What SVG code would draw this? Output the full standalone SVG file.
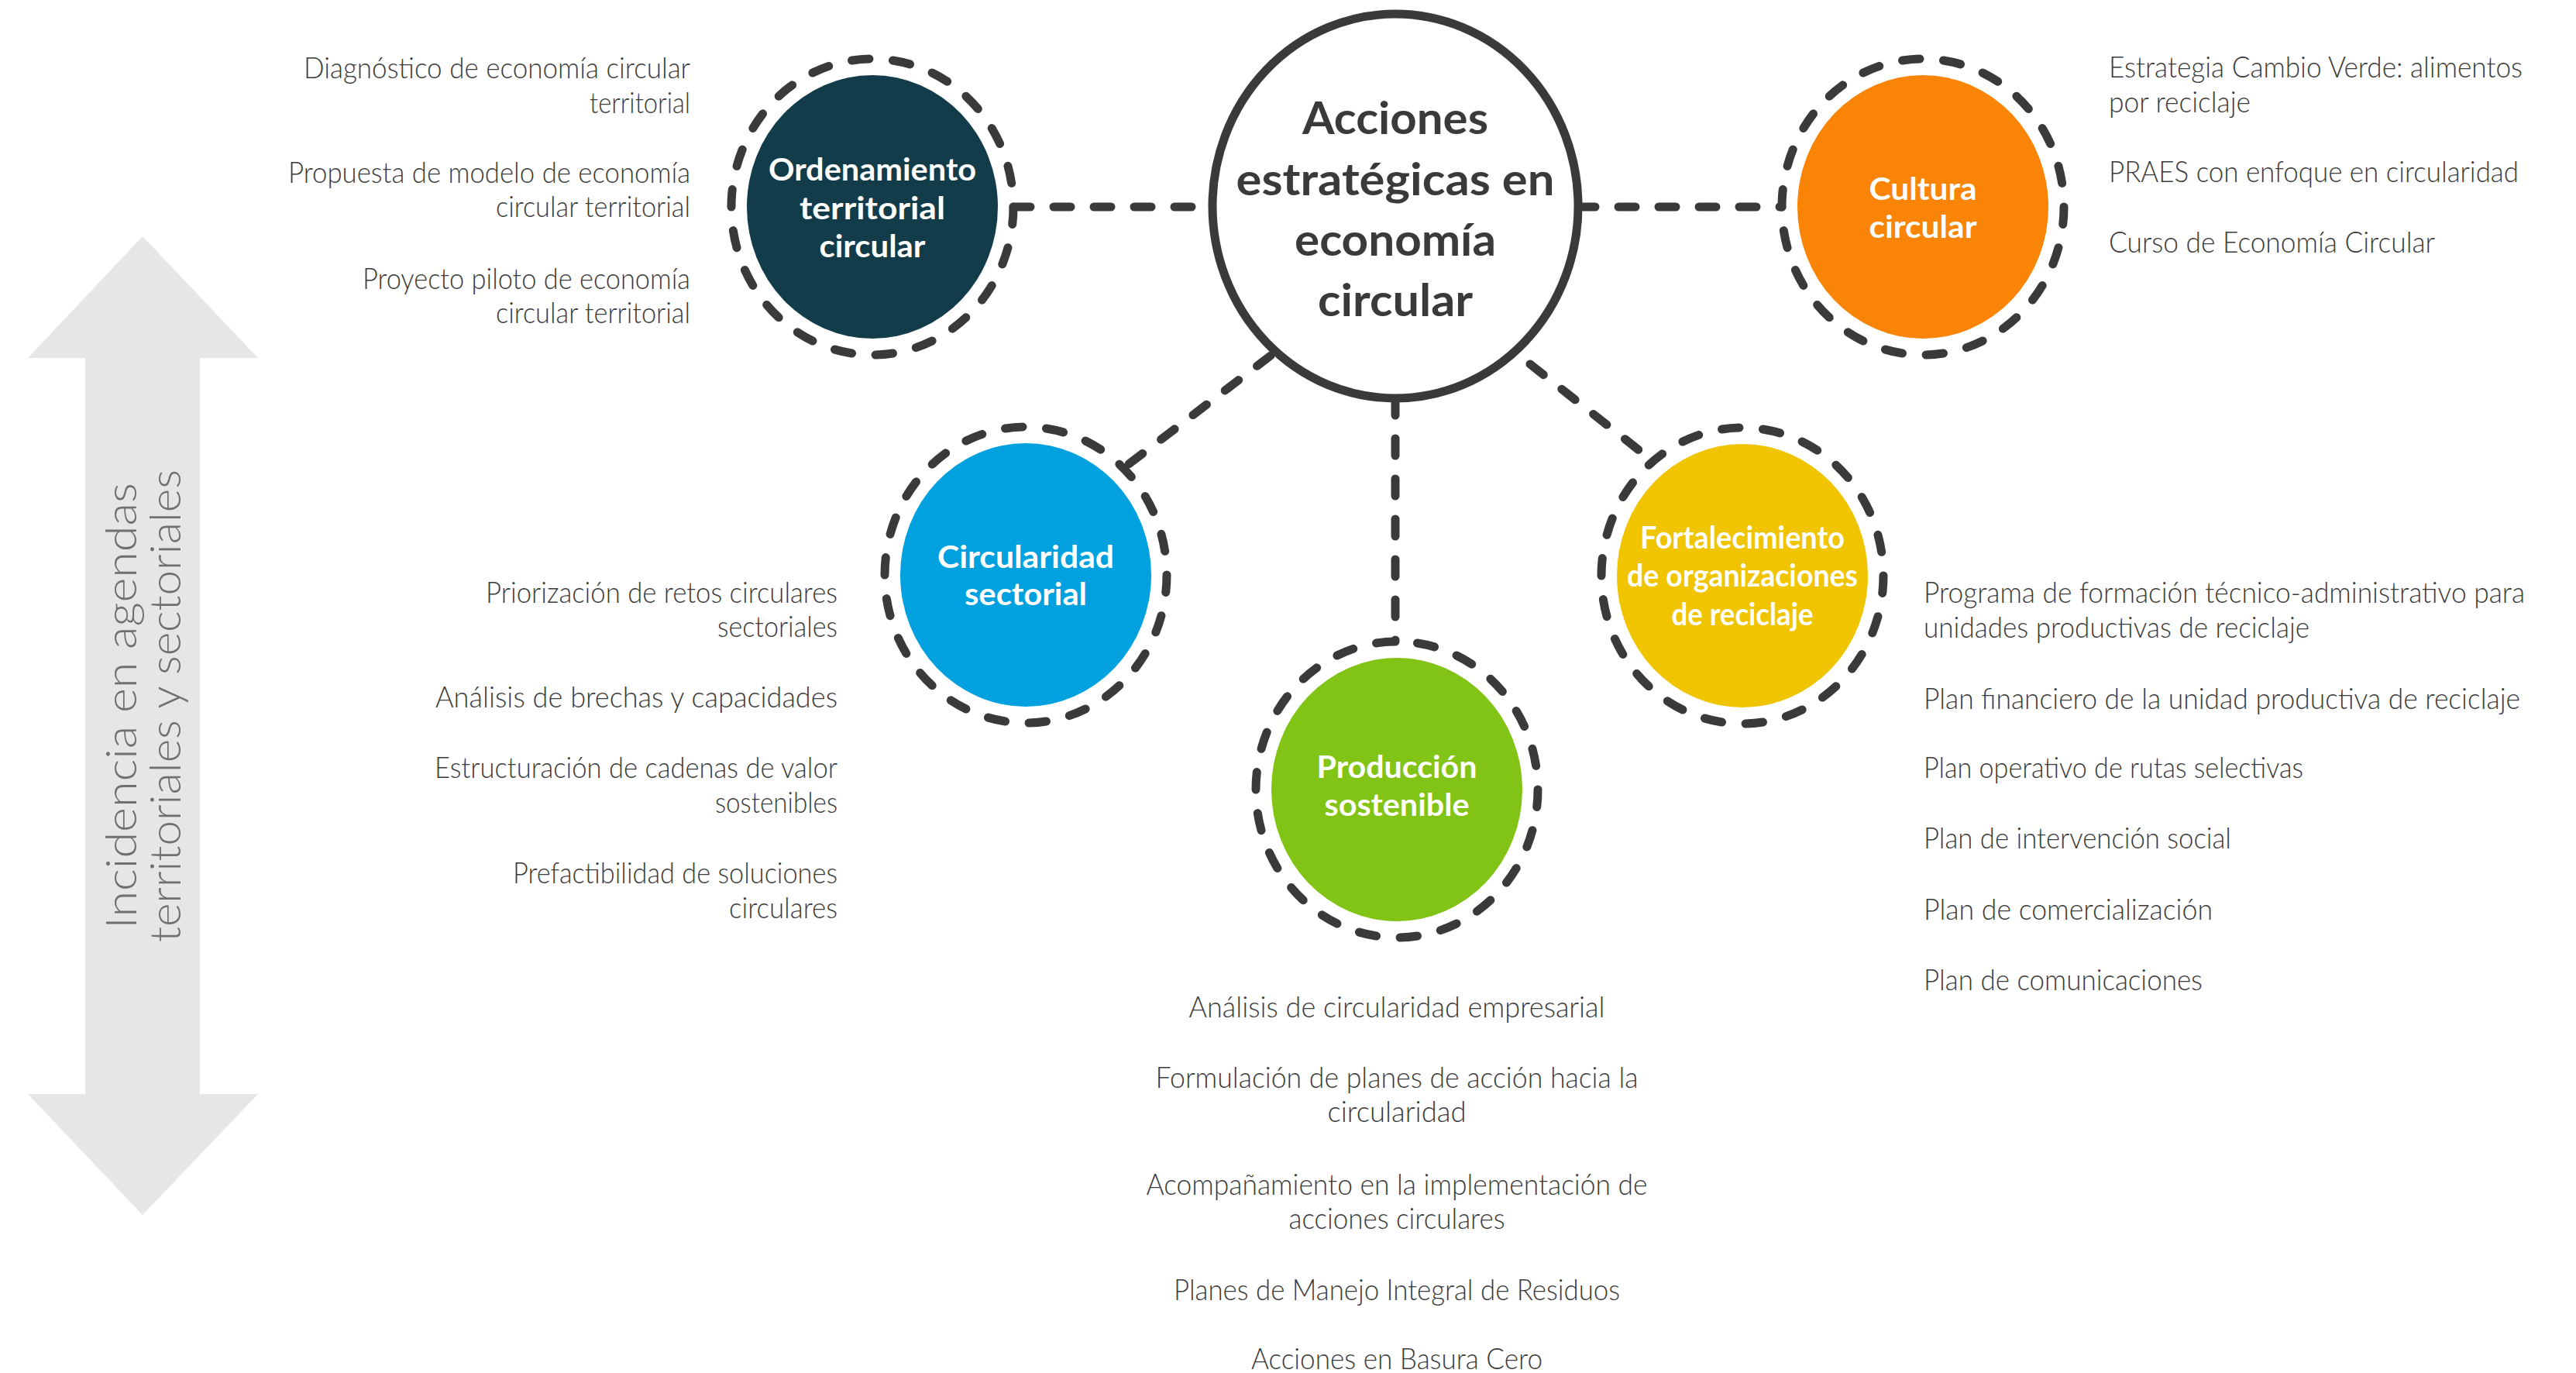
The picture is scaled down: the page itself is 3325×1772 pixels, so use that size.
<svg xmlns="http://www.w3.org/2000/svg" width="3325" height="1772" viewBox="0 0 3325 1772">
<style>
.ring{fill:none;stroke:#3a3a3a;stroke-width:11;stroke-dasharray:22 30;stroke-linecap:round}
.conn{fill:none;stroke:#3a3a3a;stroke-width:11;stroke-dasharray:22 30;stroke-linecap:round}
.body{font-family:Lato,"Liberation Sans",sans-serif;font-weight:300;font-size:38px;fill:#3b3b3b}
.lbl{font-family:Lato,"Liberation Sans",sans-serif;font-weight:700;font-size:40px;fill:#ffffff;text-anchor:middle}
.main{font-family:Lato,"Liberation Sans",sans-serif;font-weight:700;font-size:58px;fill:#3a3a3a;text-anchor:middle}
.side{font-family:Lato,"Liberation Sans",sans-serif;font-weight:300;font-size:55px;fill:#707070;text-anchor:middle}
</style>
<rect width="3325" height="1772" fill="#ffffff"/>

<g id="arrow">
<polygon points="184,305 333,462 258,462 258,1412 333,1412 184,1568 36,1412 110,1412 110,462 36,462" fill="#e6e6e6"/>
<text class="side" transform="translate(176,911) rotate(-90)" textLength="576" lengthAdjust="spacingAndGlyphs">Incidencia en agendas</text>
<text class="side" transform="translate(233,911) rotate(-90)" textLength="610" lengthAdjust="spacingAndGlyphs">territoriales y sectoriales</text>
</g>

<g id="connectors">
<line class="conn" x1="1308" y1="267" x2="1565" y2="267"/>
<line class="conn" x1="2037" y1="267" x2="2300" y2="267"/>
<line class="conn" x1="1640" y1="459" x2="1453" y2="602"/>
<line class="conn" x1="1801" y1="514" x2="1801" y2="828"/>
<line class="conn" x1="1975" y1="470" x2="2132" y2="594"/>
</g>

<g id="central">
<ellipse cx="1801" cy="266" rx="236" ry="248" fill="#ffffff" stroke="#3a3a3a" stroke-width="11"/>
<text class="main" x="1801" y="173" textLength="240" lengthAdjust="spacingAndGlyphs">Acciones</text>
<text class="main" x="1801" y="252" textLength="411" lengthAdjust="spacingAndGlyphs">estratégicas en</text>
<text class="main" x="1801" y="330" textLength="260" lengthAdjust="spacingAndGlyphs">economía</text>
<text class="main" x="1801" y="408" textLength="200" lengthAdjust="spacingAndGlyphs">circular</text>
</g>

<g id="ordenamiento">
<ellipse class="ring" cx="1126" cy="267" rx="182" ry="191" pathLength="1144"/>
<ellipse cx="1126" cy="267" rx="162" ry="170" fill="#133c4a"/>
<text class="lbl" x="1126" y="233" textLength="268" lengthAdjust="spacingAndGlyphs">Ordenamiento</text>
<text class="lbl" x="1126" y="283" textLength="188" lengthAdjust="spacingAndGlyphs">territorial</text>
<text class="lbl" x="1126" y="332" textLength="137" lengthAdjust="spacingAndGlyphs">circular</text>
<g class="body" text-anchor="end">
<text x="891" y="101" textLength="499" lengthAdjust="spacingAndGlyphs">Diagnóstico de economía circular</text>
<text x="891" y="146" textLength="130" lengthAdjust="spacingAndGlyphs">territorial</text>
<text x="891" y="236" textLength="519" lengthAdjust="spacingAndGlyphs">Propuesta de modelo de economía</text>
<text x="891" y="280" textLength="251" lengthAdjust="spacingAndGlyphs">circular territorial</text>
<text x="891" y="373" textLength="423" lengthAdjust="spacingAndGlyphs">Proyecto piloto de economía</text>
<text x="891" y="417" textLength="251" lengthAdjust="spacingAndGlyphs">circular territorial</text>
</g>
</g>

<g id="cultura">
<ellipse class="ring" cx="2482" cy="267" rx="182" ry="191" pathLength="1144"/>
<ellipse cx="2482" cy="267" rx="162" ry="170" fill="#f98406"/>
<text class="lbl" x="2482" y="258" textLength="139" lengthAdjust="spacingAndGlyphs">Cultura</text>
<text class="lbl" x="2482" y="307" textLength="139" lengthAdjust="spacingAndGlyphs">circular</text>
<g class="body">
<text x="2722" y="100" textLength="534" lengthAdjust="spacingAndGlyphs">Estrategia Cambio Verde: alimentos</text>
<text x="2722" y="145" textLength="183" lengthAdjust="spacingAndGlyphs">por reciclaje</text>
<text x="2722" y="235" textLength="529" lengthAdjust="spacingAndGlyphs">PRAES con enfoque en circularidad</text>
<text x="2722" y="326" textLength="421" lengthAdjust="spacingAndGlyphs">Curso de Economía Circular</text>
</g>
</g>

<g id="circularidad">
<ellipse class="ring" cx="1324" cy="742" rx="182" ry="191" pathLength="1144"/>
<ellipse cx="1324" cy="742" rx="162" ry="170" fill="#01a1df"/>
<text class="lbl" x="1324" y="733" textLength="228" lengthAdjust="spacingAndGlyphs">Circularidad</text>
<text class="lbl" x="1324" y="781" textLength="158" lengthAdjust="spacingAndGlyphs">sectorial</text>
<g class="body" text-anchor="end">
<text x="1081" y="778" textLength="454" lengthAdjust="spacingAndGlyphs">Priorización de retos circulares</text>
<text x="1081" y="822" textLength="155" lengthAdjust="spacingAndGlyphs">sectoriales</text>
<text x="1081" y="913" textLength="519" lengthAdjust="spacingAndGlyphs">Análisis de brechas y capacidades</text>
<text x="1081" y="1004" textLength="520" lengthAdjust="spacingAndGlyphs">Estructuración de cadenas de valor</text>
<text x="1081" y="1049" textLength="158" lengthAdjust="spacingAndGlyphs">sostenibles</text>
<text x="1081" y="1140" textLength="419" lengthAdjust="spacingAndGlyphs">Prefactibilidad de soluciones</text>
<text x="1081" y="1185" textLength="140" lengthAdjust="spacingAndGlyphs">circulares</text>
</g>
</g>

<g id="produccion">
<ellipse class="ring" cx="1803" cy="1019" rx="182" ry="191" pathLength="1144"/>
<ellipse cx="1803" cy="1019" rx="162" ry="170" fill="#82c415"/>
<text class="lbl" x="1803" y="1004" textLength="207" lengthAdjust="spacingAndGlyphs">Producción</text>
<text class="lbl" x="1803" y="1053" textLength="187" lengthAdjust="spacingAndGlyphs">sostenible</text>
<g class="body" text-anchor="middle">
<text x="1803" y="1313" textLength="537" lengthAdjust="spacingAndGlyphs">Análisis de circularidad empresarial</text>
<text x="1803" y="1404" textLength="623" lengthAdjust="spacingAndGlyphs">Formulación de planes de acción hacia la</text>
<text x="1803" y="1448" textLength="179" lengthAdjust="spacingAndGlyphs">circularidad</text>
<text x="1803" y="1542" textLength="647" lengthAdjust="spacingAndGlyphs">Acompañamiento en la implementación de</text>
<text x="1803" y="1586" textLength="279" lengthAdjust="spacingAndGlyphs">acciones circulares</text>
<text x="1803" y="1678" textLength="576" lengthAdjust="spacingAndGlyphs">Planes de Manejo Integral de Residuos</text>
<text x="1803" y="1767" textLength="376" lengthAdjust="spacingAndGlyphs">Acciones en Basura Cero</text>
</g>
</g>

<g id="fortalecimiento">
<ellipse class="ring" cx="2249" cy="743" rx="182" ry="191" pathLength="1144"/>
<ellipse cx="2249" cy="743" rx="162" ry="170" fill="#f1c400"/>
<text class="lbl" x="2249" y="708" textLength="264" lengthAdjust="spacingAndGlyphs">Fortalecimiento</text>
<text class="lbl" x="2249" y="757" textLength="298" lengthAdjust="spacingAndGlyphs">de organizaciones</text>
<text class="lbl" x="2249" y="807" textLength="183" lengthAdjust="spacingAndGlyphs">de reciclaje</text>
<g class="body">
<text x="2483" y="778" textLength="776" lengthAdjust="spacingAndGlyphs">Programa de formación técnico-administrativo para</text>
<text x="2483" y="823" textLength="498" lengthAdjust="spacingAndGlyphs">unidades productivas de reciclaje</text>
<text x="2483" y="915" textLength="770" lengthAdjust="spacingAndGlyphs">Plan financiero de la unidad productiva de reciclaje</text>
<text x="2483" y="1004" textLength="490" lengthAdjust="spacingAndGlyphs">Plan operativo de rutas selectivas</text>
<text x="2483" y="1095" textLength="397" lengthAdjust="spacingAndGlyphs">Plan de intervención social</text>
<text x="2483" y="1187" textLength="373" lengthAdjust="spacingAndGlyphs">Plan de comercialización</text>
<text x="2483" y="1278" textLength="360" lengthAdjust="spacingAndGlyphs">Plan de comunicaciones</text>
</g>
</g>
</svg>
